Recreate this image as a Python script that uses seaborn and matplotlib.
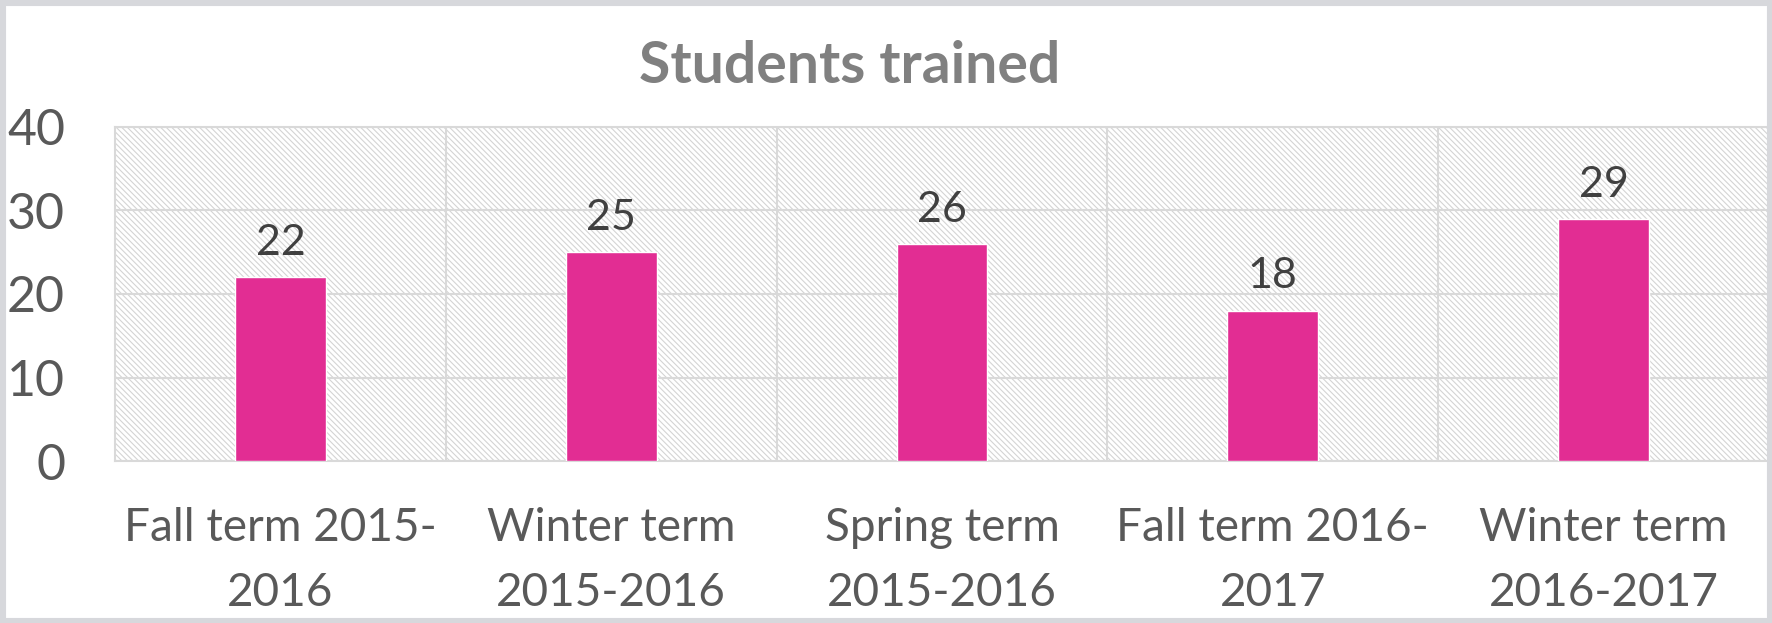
import matplotlib
matplotlib.use("Agg")
import matplotlib.pyplot as plt
import seaborn as sns
import pandas as pd
from matplotlib.patches import Rectangle

categories = ["Fall term 2015-\n2016", "Winter term\n2015-2016", "Spring term\n2015-2016",
              "Fall term 2016-\n2017", "Winter term\n2016-2017"]
values = [22, 25, 26, 18, 29]
yticks = [0, 10, 20, 30, 40]
title = "Students trained"

sns.set_style("white")
plt.rcParams['font.family'] = ['Lato', 'DejaVu Sans']
plt.rcParams['hatch.linewidth'] = 0.8

W, H = 1772, 623
fig = plt.figure(figsize=(W / 100, H / 100), dpi=100)
ax = fig.add_axes([115 / W, (H - 461) / H, (1769 - 115) / W, (461 - 127) / H])

df = pd.DataFrame({"cat": categories, "val": values})
sns.barplot(data=df, x="cat", y="val", color="#E22D93", width=0.275, saturation=1,
            ax=ax, zorder=3)

ax.patch.set_facecolor("white")
ax.patch.set_hatch("\\\\\\\\\\\\")
ax.patch.set_edgecolor("#d4d4d4")
ax.patch.set_linewidth(0)

ax.set_xlim(-0.5, len(categories) - 0.5)
ax.set_ylim(0, 40)
ax.set_yticks(yticks)
ax.set_xticks([i + 0.5 for i in range(len(categories) - 1)], minor=True)
ax.set_axisbelow(True)
ax.grid(True, axis="y", which="major", color="#d9d9d9", lw=1.5)
ax.grid(True, axis="x", which="minor", color="#d9d9d9", lw=1.5)
ax.grid(False, axis="x", which="major")
for s in ax.spines.values():
    s.set_color("#d9d9d9")
    s.set_linewidth(1.5)
ax.spines["right"].set_visible(False)

ax.set_xlabel("")
ax.set_ylabel("")
ax.tick_params(axis="y", length=0, pad=36, labelsize=36, labelcolor="#595959")
ax.tick_params(axis="x", which="both", length=0, pad=33, labelsize=33, labelcolor="#595959")
for lab in ax.get_xticklabels():
    lab.set_linespacing(1.68)

for c in ax.containers:
    ax.bar_label(c, padding=11, fontsize=31, color="#404040")

fig.text(850 / W, 1 - 83 / H, title, ha="center", va="baseline", fontsize=41,
         fontweight="bold", color="#808080")

# outer border
fig.patches.append(Rectangle((0, 0), 1, 1, transform=fig.transFigure, fill=False,
                             edgecolor="#d7d8dc", lw=8, zorder=10))

fig.savefig("out.png", dpi=100)
